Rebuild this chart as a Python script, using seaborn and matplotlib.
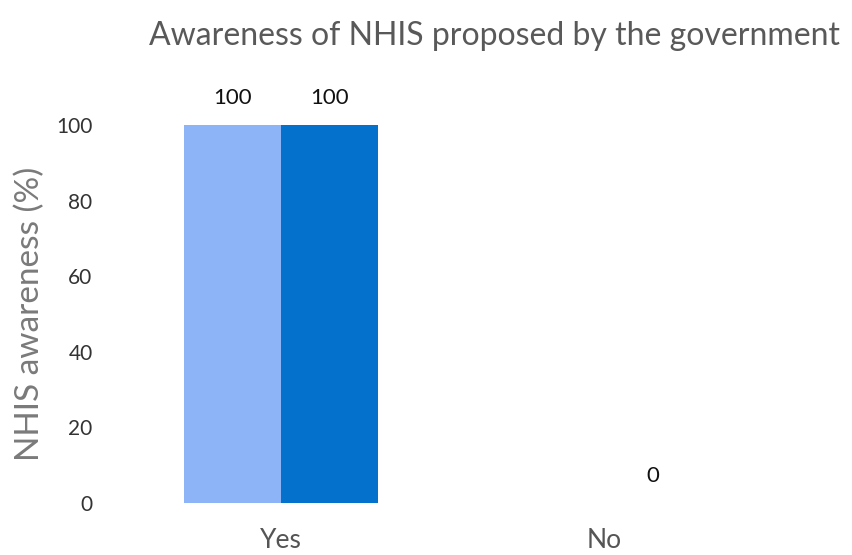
import numpy as np
import pandas as pd
import matplotlib
matplotlib.use("Agg")
import matplotlib.pyplot as plt
import seaborn as sns

# Survey responses: share of respondents aware of NHIS, two groups
categories = ["Yes", "No"]
series_names = ["Series 1", "Series 2"]
series_1 = [100, np.nan]
series_2 = [100, 0]
y_ticks = [0, 20, 40, 60, 80, 100]

df = pd.DataFrame({
    "response": categories * 2,
    "group": [series_names[0]] * 2 + [series_names[1]] * 2,
    "value": series_1 + series_2,
})

sns.set_theme(style="white")
plt.rcParams["font.family"] = ["Lato", "DejaVu Sans"]

fig = plt.figure(figsize=(8.53, 5.55), dpi=100)
ax = fig.add_axes([0.1395, 0.0937, 0.759, 0.681])

sns.barplot(
    data=df, x="response", y="value", hue="group",
    order=categories, hue_order=series_names,
    palette=["#8DB4F6", "#0472CC"], width=0.6, gap=0,
    saturation=1, errorbar=None, legend=False, ax=ax,
    linewidth=0,
)

for cont in ax.containers:
    labels = [f"{v:.0f}" if np.isfinite(v) else "" for v in cont.datavalues]
    ax.bar_label(cont, labels=labels, padding=12, fontsize=16, color="#111111")

ax.set_xlim(-0.5, 1.5)
ax.set_ylim(0, 100)
ax.set_yticks(y_ticks)
ax.tick_params(axis="y", length=0, pad=19, labelsize=15, labelcolor="#333333")
ax.tick_params(axis="x", length=0, pad=18, labelsize=19, labelcolor="#555555")
ax.set_xlabel("")
ax.set_ylabel("NHIS awareness (%)", fontsize=24, color="#7a7a7a", labelpad=8)
for s in ax.spines.values():
    s.set_visible(False)

fig.text(0.58, 0.935, "Awareness of NHIS proposed by the government",
         ha="center", va="center", fontsize=23, color="#595959")

fig.savefig("out.png", dpi=100)
